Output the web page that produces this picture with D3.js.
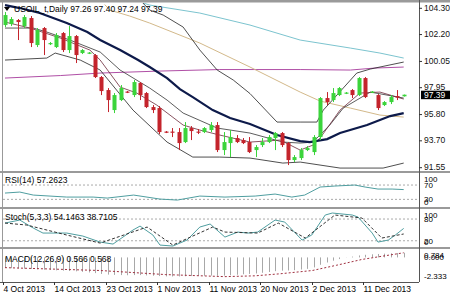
<!DOCTYPE html>
<html>
<head>
<meta charset="utf-8">
<script src="https://cdnjs.cloudflare.com/ajax/libs/d3/7.8.5/d3.min.js"></script>
<style>
  body { margin: 0; background: #fff; }
  svg { display: block; font-family: "Liberation Sans", Arial, sans-serif; }
</style>
</head>
<body>
<div id="chart"></div>
<script>
// ---- data ----
const opens  = [102.96,103.04,103.36,102.88,103.52,101.36,102.72,101.44,101.20,102.32,100.96,102.08,100.72,100.68,100.56,98.80,97.76,96.16,96.96,97.64,97.36,98.32,97.52,96.40,96.32,94.44,94.44,94.40,93.60,94.72,94.44,94.40,94.56,94.96,92.96,93.52,93.92,93.76,93.60,92.96,93.36,93.60,93.92,94.32,93.52,92.16,92.32,92.96,92.80,94.00,97.12,96.96,97.36,97.48,97.76,97.36,98.72,97.56,97.36,96.56,96.80,97.28,97.26];
const highs  = [104.00,103.60,103.44,103.76,103.68,102.72,102.80,101.60,102.32,102.40,102.88,102.16,101.04,100.80,100.64,98.88,97.92,97.52,98.16,97.68,98.56,98.40,97.60,96.56,96.48,94.48,94.72,94.72,95.20,94.88,94.64,94.80,95.20,95.20,94.40,94.56,94.16,93.92,94.00,93.36,93.92,94.16,94.40,94.40,93.60,92.56,93.12,93.28,94.16,97.20,97.60,97.92,98.00,97.60,97.84,98.80,98.80,97.68,97.44,96.88,97.36,97.76,97.40];
const lows   = [102.80,102.88,101.76,102.72,101.20,101.20,100.56,101.36,101.12,100.80,100.72,99.92,100.64,100.64,98.72,97.36,96.00,95.92,96.88,97.52,97.20,96.96,96.32,95.92,94.24,94.32,94.00,92.96,93.52,93.76,94.24,94.32,94.40,92.80,92.56,92.40,93.52,93.44,92.72,92.40,93.20,93.52,92.96,93.20,91.76,92.00,92.16,92.88,92.56,93.76,96.56,96.80,97.28,97.44,97.12,97.28,97.12,97.52,96.16,96.48,96.64,96.96,97.24];
const closes = [103.76,103.44,103.20,103.60,101.52,102.56,101.76,101.52,102.16,100.96,102.08,100.56,100.96,100.76,98.80,97.68,96.96,97.36,97.92,97.56,98.40,97.36,96.40,96.16,94.40,94.36,94.36,93.52,94.72,94.48,94.36,94.72,94.96,92.96,93.60,94.00,93.60,93.52,92.80,93.20,93.60,94.00,94.32,93.36,92.16,92.40,92.96,93.12,94.00,97.12,96.80,97.52,97.92,97.56,97.36,98.72,97.20,97.64,96.32,96.80,97.20,97.16,97.39];

const dateLabels = ["4 Oct 2013", "14 Oct 2013", "23 Oct 2013", "1 Nov 2013", "11 Nov 2013", "20 Nov 2013", "2 Dec 2013", "11 Dec 2013"];
const dateBars   = [0, 8, 16, 24, 32, 40, 48, 56];
const priceTicks = [104.30, 102.20, 100.05, 97.95, 95.80, 93.70, 91.55];
const rsiTicks   = [100, 70, 30, 0];
const stTicks    = [100, 80, 20, 0];
const macdTicks  = [0.784, 0, -2.333];

// moving averages and bands (bar index, price)
const thickIdx = [0, 2.3, 5.4, 9.6, 12.8, 14.8, 17.9, 20.7, 22.5, 25.2, 27.2, 29.2, 32.3, 35, 38.1, 42.3, 45.9, 47.4, 50.1, 52.1, 56.3, 59.9, 62];
const thickVal = [104.56, 104.32, 103.92, 103.12, 102.40, 101.76, 100.96, 100.16, 99.60, 98.72, 97.84, 97.20, 96.16, 95.52, 95.04, 94.16, 93.68, 93.60, 93.84, 94.32, 94.96, 95.68, 95.92];
const cyanIdx = [21.5, 22.5, 30.3, 38.1, 45.9, 53.7, 58.3, 62];
const cyanVal = [104.72, 104.56, 103.92, 102.96, 101.76, 101.12, 100.72, 100.32];
const purpleIdx = [0, 8.6, 14.8, 24.1, 33.4, 45.9, 53.7, 57.5, 62];
const purpleVal = [98.72, 98.92, 99.12, 99.28, 99.40, 99.40, 99.36, 99.52, 99.60];
const tanIdx = [15.5, 16.3, 19.4, 22.5, 30.3, 38.1, 45.9, 49, 53.7, 58.3, 62];
const tanVal = [104.60, 104.16, 103.68, 103.12, 101.52, 99.60, 97.60, 96.88, 96.32, 95.76, 95.60];
const bbUpIdx = [21.3, 22.5, 24.6, 27.7, 30.3, 33, 35.5, 38.1, 42.3, 45.9, 48.5, 49.5, 50.5, 54.7, 56.8, 62];
const bbUpVal = [104.80, 104.16, 103.76, 102.80, 100.96, 99.36, 98.56, 97.48, 95.20, 95.20, 95.20, 96.16, 96.72, 99.12, 99.44, 100.00];
const bbLowIdx = [0, 6.5, 7.8, 11.7, 14.8, 19.9, 25.2, 29.2, 33.4, 38.1, 43.2, 45.9, 52.1, 58.8, 62];
const bbLowVal = [100.16, 100.32, 100.72, 100.16, 99.36, 96.16, 93.60, 92.40, 92.40, 92.32, 91.92, 92.00, 91.52, 91.52, 91.92];
const ma1Idx = [0, 4.4, 6.5, 10.1, 14.8, 17.9, 22.5, 25.2, 27.7, 33, 38.1, 43.2, 45.9, 47.9, 50.5, 52.6, 56.8, 62];
const ma1Val = [102.72, 102.72, 102.40, 101.76, 100.80, 99.36, 97.92, 96.96, 95.92, 94.72, 94.32, 93.60, 93.52, 93.60, 94.96, 96.32, 97.60, 97.12];
const ma2Idx = [0, 3.9, 8.6, 13.2, 14.8, 17.9, 20.5, 23.6, 27.7, 30.3, 33.4, 38.1, 42.8, 45.9, 47.9, 49, 52.1, 55.2, 58.3, 62];
const ma2Val = [103.20, 102.72, 101.92, 100.96, 100.16, 98.00, 97.52, 96.56, 94.96, 94.56, 94.16, 93.60, 93.76, 92.96, 93.36, 93.92, 96.16, 97.52, 97.60, 97.04];

// RSI(14)
const rsiIdx = [0, 2.3, 4.4, 9.6, 13.7, 15.9, 20, 24.1, 26.8, 30.3, 34.2, 38.9, 42, 44.6, 46.6, 49, 51.3, 54.4, 56, 58, 60.2, 62];
const rsiVal = [47.6, 50.4, 42, 36.4, 36.4, 33.6, 42, 30.8, 28, 39.2, 36.4, 39.2, 44.8, 36.4, 42, 64.4, 67.2, 70, 64.4, 58.8, 58.8, 57.3];
// Stochastic(5,3,3) main and signal
const stMainIdx = [0, 2.3, 4.4, 5.9, 9.6, 12.1, 14.8, 16.8, 19.9, 21, 23, 24.1, 26.1, 28.3, 30.3, 31.9, 34.2, 36.2, 37.8, 39.3, 42, 43.5, 46.2, 47.7, 49.8, 50.9, 54, 54.9, 57.1, 58, 59.6, 60.7, 62];
const stMainVal = [68.9, 77.2, 55.1, 41.3, 41.3, 33, 16.4, 10.9, 49.6, 60.6, 35.8, 8.1, 5.4, 21.9, 57.9, 66.2, 30.2, 44, 41.3, 44, 77.2, 71.7, 21.9, 35.8, 91.1, 96.6, 91.1, 85.5, 41.3, 16.4, 21.9, 35.8, 54.1];
const stSigIdx = [0, 3.4, 9.6, 14.8, 22.1, 26.1, 32.3, 34.2, 39.3, 42.5, 46.7, 51.3, 55.5, 58.6, 62];
const stSigVal = [68.9, 63.4, 35.8, 13.6, 57.9, 8.1, 57.9, 44, 41.3, 68.9, 27.5, 91.1, 82.8, 27.5, 38.7];
// MACD(12,26,9): histogram per bar and signal line
const macdHist = [-1.30,-1.32,-1.35,-1.38,-1.42,-1.46,-1.50,-1.54,-1.58,-1.62,-1.66,-1.70,-1.76,-1.84,-1.92,-2.02,-2.10,-2.14,-2.16,-2.18,-2.16,-2.16,-2.20,-2.24,-2.28,-2.32,-2.33,-2.33,-2.30,-2.28,-2.26,-2.24,-2.22,-2.24,-2.22,-2.18,-2.12,-2.06,-2.02,-1.96,-1.88,-1.78,-1.68,-1.62,-1.60,-1.56,-1.48,-1.40,-1.22,-0.90,-0.62,-0.40,-0.20,-0.02,0.10,0.24,0.32,0.38,0.42,0.46,0.50,0.54,0.566];
const macdSigIdx = [0, 14.8, 25, 34.2, 38.9, 42.8, 47.8, 51.6, 55.5, 62];
const macdSigVal = [-1.25, -1.60, -2.10, -2.35, -2.25, -2.00, -1.60, -0.95, -0.25, 0.568];

// ---- layout ----
const W = 450, H = 294;
const plotL = 3, plotR = 419;
const mainTop = 3, mainBot = 171;
const rsiTop = 173, rsiBot = 207;
const stTop = 209, stBot = 247;
const macdTop = 249, macdBot = 282;

const green = "#3bd43b", red = "#c4242c";

const svg = d3.select("#chart").append("svg")
  .attr("width", W).attr("height", H);

const x = d3.scaleLinear().domain([0, 62]).range([5, 403.7]);
const y = d3.scaleLinear().domain([91.55, 104.30]).range([167.7, 8.3]);
const yRsi = d3.scaleLinear().domain([0, 100]).range([210.1, 174.3]);
const ySt = d3.scaleLinear().domain([0, 100]).range([248, 211.8]);
const yMacd = d3.scaleLinear().domain([-2.333, 0.784]).range([276.5, 251]);

const defs = svg.append("defs");
function clip(id, top, bot) {
  defs.append("clipPath").attr("id", id).append("rect")
    .attr("x", plotL).attr("y", top).attr("width", plotR - plotL).attr("height", bot - top);
}
clip("cMain", mainTop, mainBot);
clip("cRsi", rsiTop, rsiBot);
clip("cSt", stTop, stBot);
clip("cMacd", macdTop, macdBot);

// frames and separators
svg.append("rect").attr("x", 0).attr("y", 0).attr("width", W).attr("height", 2.5).attr("fill", "#9a9a9a");
[mainBot, rsiBot, stBot].forEach(yy => {
  svg.append("rect").attr("x", 0).attr("y", yy).attr("width", W).attr("height", 2).attr("fill", "#9a9a9a");
});
svg.append("line").attr("x1", plotR + 0.5).attr("x2", plotR + 0.5).attr("y1", 0).attr("y2", macdBot)
  .attr("stroke", "#555").attr("stroke-width", 1);
svg.append("line").attr("x1", plotL - 0.5).attr("x2", plotL - 0.5).attr("y1", 0).attr("y2", macdBot)
  .attr("stroke", "#999").attr("stroke-width", 1);
svg.append("line").attr("x1", 0).attr("x2", plotR).attr("y1", macdBot + 0.5).attr("y2", macdBot + 0.5)
  .attr("stroke", "#555").attr("stroke-width", 1);

// ---- main panel ----
const gMain = svg.append("g").attr("clip-path", "url(#cMain)");
const lineOf = (xs, ys, yScale) => d3.line()
  .x(d => x(xs[d]))
  .y(d => yScale(ys[d]))(d3.range(xs.length));

function drawLine(g, xs, ys, yScale, color, width, dash) {
  g.append("path").attr("d", lineOf(xs, ys, yScale))
    .attr("fill", "none").attr("stroke", color).attr("stroke-width", width)
    .attr("stroke-dasharray", dash || null);
}
drawLine(gMain, cyanIdx, cyanVal, y, "#7cc4cf", 1);
drawLine(gMain, purpleIdx, purpleVal, y, "#b04fa6", 1);
drawLine(gMain, tanIdx, tanVal, y, "#d3b98a", 1);
drawLine(gMain, bbUpIdx, bbUpVal, y, "#222", 0.8);
drawLine(gMain, bbLowIdx, bbLowVal, y, "#222", 0.8);
drawLine(gMain, ma1Idx, ma1Val, y, "#333", 0.8);
drawLine(gMain, ma2Idx, ma2Val, y, "#6b2a3a", 0.8);
drawLine(gMain, thickIdx, thickVal, y, "#0d1a4a", 2.2);

const bars = d3.range(opens.length);
gMain.selectAll("line.wick").data(bars).join("line")
  .attr("class", "wick")
  .attr("x1", i => Math.round(x(i)) + 0.5).attr("x2", i => Math.round(x(i)) + 0.5)
  .attr("y1", i => y(highs[i])).attr("y2", i => y(lows[i]))
  .attr("stroke", i => closes[i] >= opens[i] ? green : red).attr("stroke-width", 1);
gMain.selectAll("rect.body").data(bars).join("rect")
  .attr("class", "body")
  .attr("x", i => Math.round(x(i)) - 1.5).attr("width", 4)
  .attr("y", i => y(Math.max(opens[i], closes[i])))
  .attr("height", i => Math.max(1.2, Math.abs(y(opens[i]) - y(closes[i]))))
  .attr("fill", i => closes[i] >= opens[i] ? green : red);

// price axis
const axisG = svg.append("g").attr("font-size", 8.5).attr("fill", "#111");
priceTicks.forEach(v => {
  axisG.append("line").attr("x1", plotR).attr("x2", plotR + 3).attr("y1", y(v)).attr("y2", y(v)).attr("stroke", "#333");
  axisG.append("text").attr("x", 424).attr("y", y(v) + 2.5).text(v.toFixed(2));
});
const last = closes[closes.length - 1];
svg.append("rect").attr("x", 421).attr("y", y(last) - 4).attr("width", 29).attr("height", 8.5).attr("fill", "#000");
svg.append("text").attr("x", 424).attr("y", y(last) + 3).attr("font-size", 8.5).attr("fill", "#fff").text(last.toFixed(2));

// title
svg.append("path").attr("d", "M4,7 L10,7 L7,11 Z").attr("fill", "#000");
svg.append("text").attr("x", 14).attr("y", 12).attr("font-size", 8.5).attr("fill", "#000")
  .text("USOIL_t,Daily  97.26 97.40 97.24 97.39");

// indicator scale labels, kept inside their own window like the terminal does
function sideLabels(ticks, scale, top, bot, fmt) {
  ticks.forEach(v => {
    const yy = Math.min(Math.max(scale(v), top + 6), bot - 5);
    svg.append("text").attr("x", 424).attr("y", yy + 2.8).attr("font-size", 8).text(fmt(v));
  });
}

// ---- RSI ----
const gRsi = svg.append("g").attr("clip-path", "url(#cRsi)");
[70, 30].forEach(v => gRsi.append("line").attr("x1", plotL).attr("x2", plotR)
  .attr("y1", yRsi(v)).attr("y2", yRsi(v)).attr("stroke", "#aaa").attr("stroke-dasharray", "2,2"));
drawLine(gRsi, rsiIdx, rsiVal, yRsi, "#4f9ea0", 1);
svg.append("text").attr("x", 5).attr("y", 183).attr("font-size", 8.5).text("RSI(14) 57.2623");
sideLabels(rsiTicks, yRsi, rsiTop, rsiBot, v => v);

// ---- Stochastic ----
const gSt = svg.append("g").attr("clip-path", "url(#cSt)");
[80, 20].forEach(v => gSt.append("line").attr("x1", plotL).attr("x2", plotR)
  .attr("y1", ySt(v)).attr("y2", ySt(v)).attr("stroke", "#aaa").attr("stroke-dasharray", "2,2"));
drawLine(gSt, stMainIdx, stMainVal, ySt, "#4f9ea0", 1);
drawLine(gSt, stSigIdx, stSigVal, ySt, "#333", 1, "3,2");
svg.append("text").attr("x", 5).attr("y", 220).attr("font-size", 8.5).text("Stoch(5,3,3) 54.1463 38.7105");
sideLabels(stTicks, ySt, stTop, stBot, v => v);

// ---- MACD ----
const gMacd = svg.append("g").attr("clip-path", "url(#cMacd)");
gMacd.selectAll("line.hist").data(bars).join("line")
  .attr("class", "hist")
  .attr("x1", i => Math.round(x(i)) + 0.5).attr("x2", i => Math.round(x(i)) + 0.5)
  .attr("y1", yMacd(0)).attr("y2", i => yMacd(macdHist[i]))
  .attr("stroke", "#a8a8a8").attr("stroke-width", 1);
drawLine(gMacd, macdSigIdx, macdSigVal, yMacd, "#a03040", 1, "2,2");
svg.append("text").attr("x", 5).attr("y", 262).attr("font-size", 8.5).text("MACD(12,26,9) 0.566 0.568");
sideLabels(macdTicks, yMacd, macdTop, macdBot, v => v.toFixed(3));

// ---- date axis ----
dateBars.forEach((b, k) => {
  const xx = Math.round(x(b)) - 1.5;
  svg.append("line").attr("x1", xx).attr("x2", xx).attr("y1", macdBot).attr("y2", macdBot + 3).attr("stroke", "#333");
  svg.append("text").attr("x", xx).attr("y", 292).attr("font-size", 8.5).text(dateLabels[k]);
});
</script>
</body>
</html>
